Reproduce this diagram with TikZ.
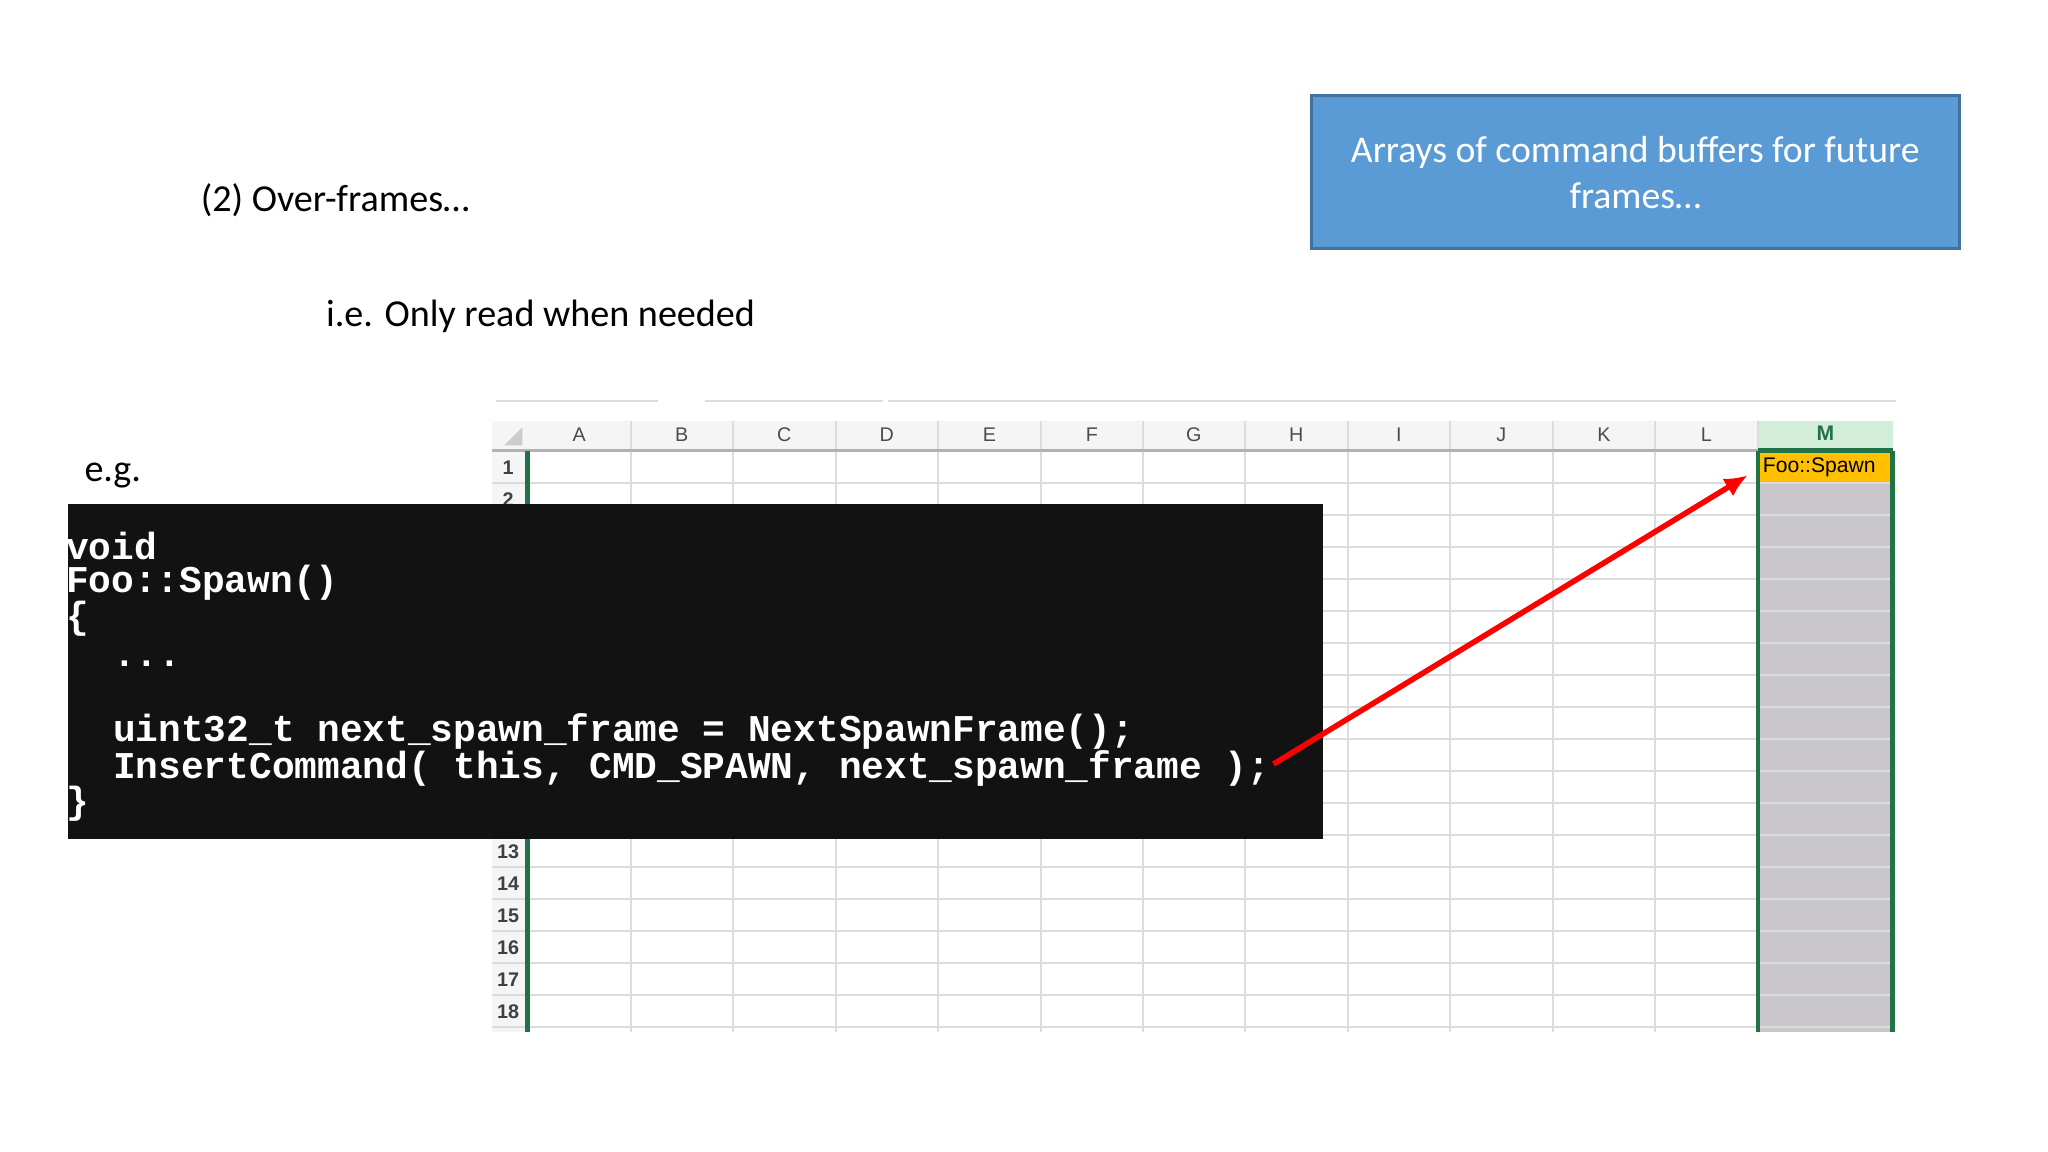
\documentclass[tikz,border=0pt]{standalone}
\usetikzlibrary{arrows.meta}
\usepackage{fontspec}
\setmainfont{Carlito}
\newfontfamily\codefont{Liberation Mono}
\newfontfamily\uifont{Liberation Sans}
\definecolor{bluebox}{HTML}{5B9BD5}
\definecolor{blueedge}{HTML}{41719C}
\definecolor{xlgreen}{HTML}{217346}
\definecolor{gridc}{HTML}{DADCDD}
\definecolor{mgrey}{HTML}{C9C7CC}
\definecolor{mhead}{HTML}{D2EEDB}
\definecolor{orangec}{HTML}{FFC000}
\begin{document}
\begin{tikzpicture}[x=0.01cm,y=-0.01cm,
  lbl/.style={anchor=west,inner sep=0,font=\fontsize{8.3}{10}\selectfont},
  colh/.style={font=\uifont\fontsize{4.3}{5}\selectfont,text=black!70},
  rowh/.style={font=\uifont\bfseries\fontsize{4.3}{5}\selectfont,text=black!75},
  codeline/.style={anchor=west,inner sep=0,text=white,font=\codefont\bfseries\fontsize{8.23}{9}\selectfont}]
\useasboundingbox (0,0) rectangle (1568,882);
\fill[white] (0,0) rectangle (1568,882);
\node[lbl] (t1) at (153,153) {(2) Over-frames…};
\node[lbl] (t2) at (249,242) {i.e. Only read when needed};
\node[lbl] (t3) at (64,364) {e.g.};
\fill[bluebox,draw=blueedge,line width=0.6pt] (1004,73) rectangle (1500,190);
\node[text=white,align=center,font=\fontsize{8.2}{10}\selectfont] (bt) at (1252,132) {Arrays of command buffers for future\\frames…};
% spreadsheet
\draw[gridc,line width=0.5pt] (380,307) -- (504,307) (540,307) -- (676,307) (680,307) -- (1452,307);
\fill[black!4] (377,322) rectangle (1449,345);
\fill[black!4] (377,345) rectangle (404,790);
\fill[mhead] (1346,322) rectangle (1449,345);
\fill[mgrey] (1346,370.5) rectangle (1449,790);
\fill[orangec] (1346,346) rectangle (1449,370.5);
\fill[black!20] (386,341) -- (400,341) -- (400,327) -- cycle;
\foreach \x in {483,561,640,718,797,875,953,1032,1110,1189,1267,1346}
  \draw[gridc,line width=0.4pt] (\x,322) -- (\x,790);
\foreach \r in {1,...,18}
  \draw[gridc,line width=0.4pt] (377,{345+24.5*\r}) -- (1449,{345+24.5*\r});
\draw[black!30,line width=0.5pt] (377,345) -- (1449,345);
\foreach \c/\x in {A/443.5,B/522,C/600.5,D/679,E/757.5,F/836,G/914,H/992.5,I/1071,J/1149.5,K/1228,L/1306.5}
  \node[colh] (h\c) at (\x,333) {\c};
\node[colh,text=xlgreen,font=\uifont\bfseries\fontsize{4.6}{5}\selectfont] (hM) at (1397.5,332) {M};
\foreach \r in {1,2,13,14,15,16,17,18}
  \node[rowh] (r\r) at (389,{358+24.5*(\r-1)}) {\r};
\draw[xlgreen,line width=1pt] (404,345) -- (404,790);
\draw[xlgreen,line width=1pt] (1346,345) -- (1346,790) (1449,345) -- (1449,790) (1346,345) -- (1449,345);
\node[font=\uifont\fontsize{4.6}{5}\selectfont,anchor=west,inner sep=0] (foo) at (1349,358) {Foo::Spawn};
% code box
\fill[black!93] (52,386) rectangle (1013,642);
\node[codeline] (c1) at (50,418) {void};
\node[codeline] (c2) at (50,446) {Foo::Spawn()};
\node[codeline] (c3) at (50,474) {\{};
\node[codeline] (c4) at (86,508) {...};
\node[codeline] (c5) at (86,560) {uint32\_t next\_spawn\_frame = NextSpawnFrame();};
\node[codeline] (c6) at (86,588) {InsertCommand( this, CMD\_SPAWN, next\_spawn\_frame );};
\node[codeline] (c7) at (50,615) {\}};
\coordinate (a0) at (975,585);
\coordinate (a1) at (1338,364);
\draw[red,line width=1.2pt,-{Latex[length=5pt,width=4.5pt]}] (a0) -- (a1);
\end{tikzpicture}
\end{document}
